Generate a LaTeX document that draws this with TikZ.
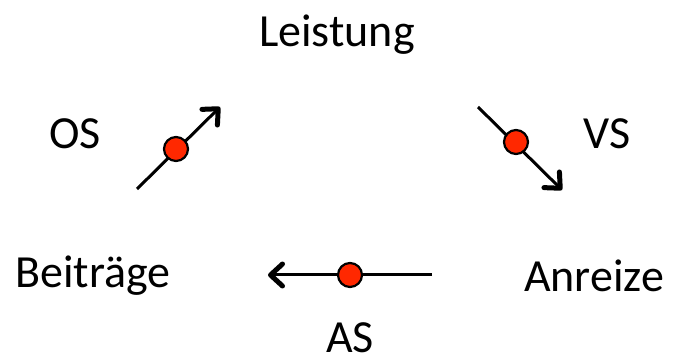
\documentclass[tikz,border=0pt]{standalone}
\usepackage{fontspec}
\setmainfont{Carlito}
\usetikzlibrary{arrows.meta}
\definecolor{punktrot}{RGB}{255,40,0}
\tikzset{
  pfeil/.style={line width=3pt, -{Straight Barb[length=12pt, width=22pt, line width=5pt 0, round]}},
  punkt/.style={circle, draw, line width=2.2pt, fill=punktrot, inner sep=0pt, minimum size=24pt},
  wort/.style={font=\fontsize{46}{50}\selectfont, inner sep=0pt}
}
\begin{document}
\begin{tikzpicture}[x=1pt, y=-1pt]
  \useasboundingbox (0, 0) rectangle (675, 363);
  \node[wort] (leistung) at (337, 35) {Leistung};
  \node[wort] (beitraege) at (93, 276) {Beiträge};
  \node[wort] (anreize) at (594, 276) {Anreize};
  \node[wort] (os) at (75, 134) {OS};
  \node[wort] (vs) at (607, 134) {VS};
  \node[wort] (as) at (350, 338) {AS};
  % Pfeile
  \coordinate (os-a) at (137, 189);
  \coordinate (os-b) at (220, 107);
  \coordinate (vs-a) at (478, 107);
  \coordinate (vs-b) at (562, 190);
  \coordinate (as-a) at (432, 275);
  \coordinate (as-b) at (268, 275);
  \foreach \p in {os, vs, as} {
    \draw[pfeil] (\p-a) -- (\p-b);
  }
  \node[punkt] (os-p) at (176, 149) {};
  \node[punkt] (vs-p) at (516, 142) {};
  \node[punkt] (as-p) at (350, 275) {};
\end{tikzpicture}
\end{document}
